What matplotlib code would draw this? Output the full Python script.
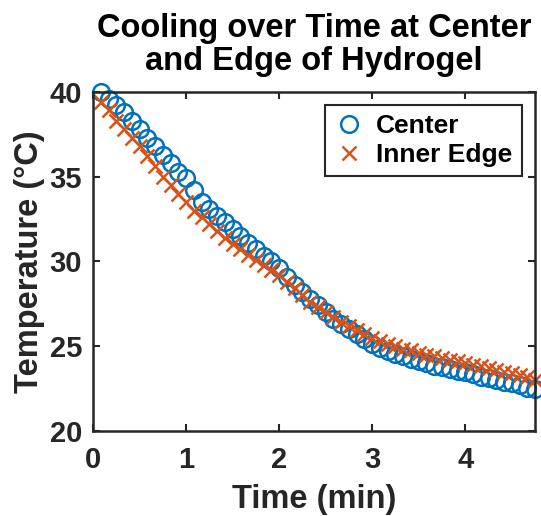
import matplotlib
matplotlib.use("Agg")
import matplotlib.pyplot as plt

plt.rcParams['font.family'] = ['Liberation Sans', 'DejaVu Sans']
plt.rcParams['font.weight'] = 'bold'

# sampled every 5 s
time_min = [0.083, 0.167, 0.250, 0.333, 0.417, 0.500, 0.583, 0.667, 0.750, 0.833,
            0.917, 1.000, 1.083, 1.167, 1.250, 1.333, 1.417, 1.500, 1.583, 1.667,
            1.750, 1.833, 1.917, 2.000, 2.083, 2.167, 2.250, 2.333, 2.417, 2.500,
            2.583, 2.667, 2.750, 2.833, 2.917, 3.000, 3.083, 3.167, 3.250, 3.333,
            3.417, 3.500, 3.583, 3.667, 3.750, 3.833, 3.917, 4.000, 4.083, 4.167,
            4.250, 4.333, 4.417, 4.500, 4.583, 4.667, 4.750]

center = [40.0, 39.6, 39.2, 38.8, 38.3, 37.8, 37.3, 36.8, 36.3, 35.8,
          35.3, 34.9, 34.2, 33.5, 33.1, 32.7, 32.3, 31.9, 31.5, 31.1,
          30.7, 30.3, 30.0, 29.6, 29.1, 28.6, 28.2, 27.8, 27.4, 27.0,
          26.6, 26.3, 26.0, 25.7, 25.4, 25.15, 24.9, 24.7, 24.55, 24.4,
          24.25, 24.1, 24.0, 23.85, 23.75, 23.65, 23.55, 23.45, 23.35, 23.2,
          23.1, 23.0, 22.9, 22.8, 22.7, 22.55, 22.45]

inner_edge = [39.4, 38.9, 38.3, 37.8, 37.3, 36.8, 36.2, 35.6, 35.0, 34.5,
              34.0, 33.5, 33.0, 32.6, 32.2, 31.8, 31.4, 31.0, 30.7, 30.4,
              30.1, 29.8, 29.5, 29.2, 28.8, 28.4, 28.0, 27.6, 27.3, 27.0,
              26.7, 26.45, 26.2, 25.95, 25.7, 25.5, 25.3, 25.15, 25.0, 24.85,
              24.75, 24.6, 24.5, 24.4, 24.3, 24.2, 24.1, 24.0, 23.9, 23.8,
              23.7, 23.6, 23.5, 23.4, 23.3, 23.15, 23.0]

x_ticks = [0, 1, 2, 3, 4]
y_ticks = [20, 25, 30, 35, 40]

blue = '#0072BD'
orange = '#D95319'
axcol = '#262626'

fig = plt.figure(figsize=(5.41, 5.16), dpi=100)
ax = fig.add_axes([0.172, 0.165, 0.817, 0.657])

ax.plot(time_min, center, linestyle='none', marker='o', markersize=12,
        markerfacecolor='none', markeredgecolor=blue, markeredgewidth=1.8,
        label='Center', clip_on=False)
ax.plot(time_min, inner_edge, linestyle='none', marker='x', markersize=9.5,
        markeredgecolor=orange, markeredgewidth=1.8,
        label='Inner Edge', clip_on=False)

ax.set_xlim(0, 4.75)
ax.set_ylim(20, 40)
ax.set_xticks(x_ticks)
ax.set_yticks(y_ticks)
ax.tick_params(direction='in', top=True, right=True, length=5, width=1.5,
               color=axcol, labelcolor=axcol, labelsize=21)
ax.tick_params(axis='x', pad=11)
ax.tick_params(axis='y', pad=8)
for lab in ax.get_xticklabels() + ax.get_yticklabels():
    lab.set_fontweight('bold')
for sp in ax.spines.values():
    sp.set_linewidth(1.8)
    sp.set_color(axcol)

ax.set_xlabel('Time (min)', fontsize=23.5, fontweight='bold', color=axcol, labelpad=7)
ax.set_ylabel('Temperature (°C)', fontsize=23.5, fontweight='bold', color=axcol, labelpad=3)
ax.set_title('Cooling over Time at Center\nand Edge of Hydrogel', fontsize=23.5,
             fontweight='bold', color='black', pad=16, linespacing=1.05)

leg = ax.legend(loc='upper right', fontsize=19, frameon=True, fancybox=False,
                edgecolor=axcol, framealpha=1, borderpad=0.35, handletextpad=0.5,
                handlelength=1.1, labelspacing=0.18, borderaxespad=0.5)
leg.get_frame().set_linewidth(1.5)
for t in leg.get_texts():
    t.set_fontweight('bold')
    t.set_color('black')

fig.savefig('out.png', dpi=100)
